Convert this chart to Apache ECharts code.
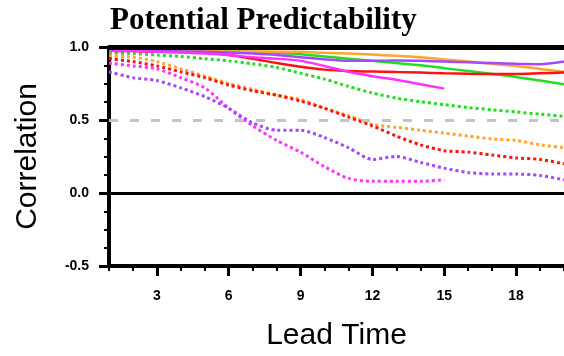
<!DOCTYPE html>
<html>
<head>
<meta charset="utf-8">
<script src="https://cdn.jsdelivr.net/npm/echarts/dist/echarts.min.js"></script>
<style>
html,body{margin:0;padding:0;background:#fff;}
#chart{width:564px;height:356px;}
</style>
</head>
<body>
<div id="chart"></div>
<script>
var leadTimes = [1,2,3,4,5,6,7,8,9,10,11,12,13,14,15,16,17,18,19,20];
var xTickLabels = [3,6,9,12,15,18];

// solid lines
var purpleSolid  = [0.975,0.975,0.972,0.970,0.967,0.962,0.955,0.945,0.930,0.915,0.905,0.905,0.908,0.905,0.900,0.895,0.890,0.885,0.882,0.900];
var magentaSolid = [0.975,0.972,0.968,0.963,0.955,0.945,0.930,0.920,0.905,0.870,0.830,0.800,0.775,0.745,0.715];
var redSolid     = [0.975,0.972,0.968,0.965,0.960,0.945,0.920,0.890,0.865,0.845,0.835,0.832,0.828,0.825,0.820,0.817,0.815,0.815,0.820,0.825];
var orangeSolid  = [0.975,0.975,0.975,0.973,0.971,0.970,0.969,0.968,0.967,0.960,0.955,0.948,0.940,0.930,0.915,0.900,0.885,0.870,0.850,0.830];
var greenSolid   = [0.975,0.975,0.973,0.971,0.970,0.969,0.967,0.960,0.950,0.935,0.920,0.905,0.890,0.875,0.855,0.835,0.815,0.795,0.770,0.745];

// dotted lines
var purpleDot  = [0.83,0.79,0.77,0.72,0.66,0.58,0.48,0.43,0.43,0.38,0.31,0.23,0.25,0.21,0.17,0.14,0.13,0.13,0.12,0.09];
var magentaDot = [0.89,0.87,0.85,0.79,0.72,0.58,0.46,0.36,0.28,0.18,0.10,0.08,0.08,0.08,0.09];
var redDot     = [0.92,0.90,0.87,0.83,0.79,0.74,0.70,0.67,0.63,0.58,0.52,0.46,0.39,0.33,0.29,0.28,0.26,0.24,0.23,0.20];
var orangeDot  = [0.94,0.93,0.90,0.85,0.80,0.75,0.71,0.67,0.64,0.58,0.53,0.47,0.45,0.43,0.41,0.39,0.37,0.36,0.33,0.31];
var greenDot   = [0.96,0.955,0.945,0.935,0.92,0.905,0.885,0.86,0.82,0.78,0.73,0.685,0.65,0.625,0.605,0.585,0.57,0.555,0.54,0.525];

var colors = {purple:'#a448ff', magenta:'#ff33ff', red:'#ff1111', orange:'#ffa530', green:'#22dd22'};

function pairs(vals){ return vals.map(function(v,i){ return [leadTimes[i], v]; }); }

function dotted(name, vals, color){
  return {name:name, type:'line', data:pairs(vals), showSymbol:false, smooth:0.25,
    lineStyle:{color:color, width:3, type:[3,3]}, z:3, silent:true};
}
function solid(name, vals, color){
  return {name:name, type:'line', data:pairs(vals), showSymbol:false, smooth:0.25,
    lineStyle:{color:color, width:2.5, type:'solid'}, z:4, silent:true};
}

var series = [
  dotted('greenDot', greenDot, colors.green),
  dotted('orangeDot', orangeDot, colors.orange),
  dotted('redDot', redDot, colors.red),
  dotted('magentaDot', magentaDot, colors.magenta),
  dotted('purpleDot', purpleDot, colors.purple),
  solid('greenSolid', greenSolid, colors.green),
  solid('orangeSolid', orangeSolid, colors.orange),
  solid('redSolid', redSolid, colors.red),
  solid('purpleSolid', purpleSolid, colors.purple),
  solid('magentaSolid', magentaSolid, colors.magenta),
  {type:'line', data:[], silent:true, z:5,
    markLine:{silent:true, symbol:['none','none'], label:{show:false}, animation:false,
      data:[
        {yAxis:0.5, lineStyle:{color:'#c4c4c4', width:3, type:[9,12]}},
        {yAxis:0, lineStyle:{color:'#000', width:3, type:'solid'}},
        {yAxis:1.0, lineStyle:{color:'#000', width:5, type:'solid'}}
      ]}}
];

var chart = echarts.init(document.getElementById('chart'), null, {renderer:'canvas'});
chart.setOption({
  animation:false,
  backgroundColor:'#fff',
  title:{text:'Potential Predictability', left:105, top:0,
    textStyle:{fontFamily:'Liberation Serif', fontWeight:'bold', fontSize:31, color:'#000'}},
  grid:{left:109, top:47, width:458, height:225, containLabel:false},
  xAxis:[
    {type:'value', min:1, max:20, position:'bottom',
      name:'Lead Time', nameLocation:'middle', nameGap:55,
      nameTextStyle:{fontFamily:'Liberation Sans', fontSize:30, color:'#000'},
      axisLine:{show:true, onZero:false, lineStyle:{color:'#000', width:4}},
      axisTick:{show:true, customValues:xTickLabels, length:10, lineStyle:{color:'#000', width:3}},
      axisLabel:{show:true, customValues:xTickLabels, margin:23, fontFamily:'Liberation Sans', fontWeight:'bold', fontSize:14, color:'#000'},
      splitLine:{show:false}},
    {type:'value', min:1, max:20, interval:1, position:'bottom',
      axisLine:{show:false, onZero:false},
      axisTick:{show:true, length:5, lineStyle:{color:'#000', width:2}},
      axisLabel:{show:false}, splitLine:{show:false}}
  ],
  yAxis:{type:'value', min:-0.5, max:1.0, interval:0.5, position:'left',
    name:'Correlation', nameLocation:'middle', nameGap:66,
    nameTextStyle:{fontFamily:'Liberation Sans', fontSize:30, color:'#000'},
    axisLine:{show:true, onZero:false, lineStyle:{color:'#000', width:4}},
    axisTick:{show:true, length:10, lineStyle:{color:'#000', width:3}},
    minorTick:{show:true, splitNumber:4, length:5, lineStyle:{color:'#000', width:2}},
    axisLabel:{margin:20, fontFamily:'Liberation Sans', fontWeight:'bold', fontSize:14, color:'#000',
      formatter:function(v){ return v.toFixed(1); }},
    splitLine:{show:false}},
  series:series
});
</script>
</body>
</html>
